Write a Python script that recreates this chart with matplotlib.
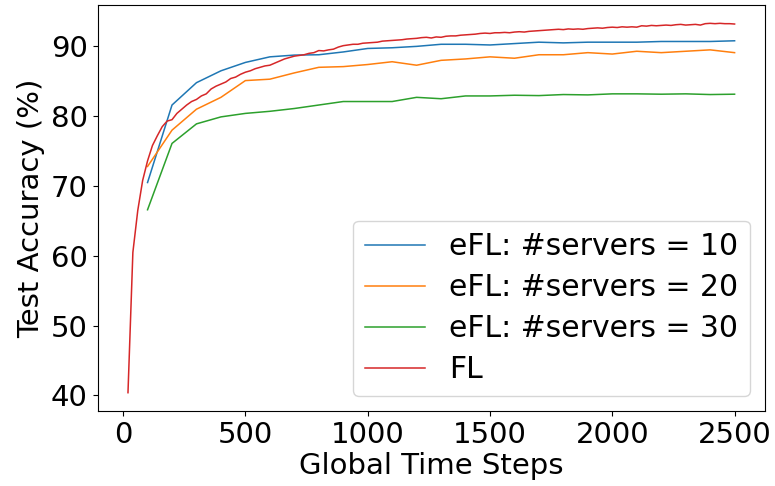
import numpy as np
import matplotlib
matplotlib.use("Agg")
from matplotlib import pyplot as plt

# eFL runs are evaluated every 100 global steps
steps_efl = [100, 200, 300, 400, 500, 600, 700, 800, 900, 1000,
             1100, 1200, 1300, 1400, 1500, 1600, 1700, 1800, 1900, 2000,
             2100, 2200, 2300, 2400, 2500]

acc_s10 = [70.5, 81.6, 84.8, 86.5, 87.7, 88.5, 88.75, 88.8, 89.2, 89.7,
           89.8, 90.0, 90.3, 90.3, 90.2, 90.4, 90.6, 90.5, 90.6, 90.6,
           90.6, 90.7, 90.7, 90.7, 90.8]
acc_s20 = [72.8, 78.0, 81.0, 82.7, 85.1, 85.3, 86.2, 87.0, 87.1, 87.4,
           87.8, 87.3, 88.0, 88.2, 88.5, 88.3, 88.8, 88.8, 89.1, 88.9,
           89.3, 89.1, 89.3, 89.5, 89.1]
acc_s30 = [66.6, 76.1, 78.9, 79.9, 80.4, 80.7, 81.1, 81.6, 82.1, 82.1,
           82.1, 82.7, 82.5, 82.9, 82.9, 83.0, 82.95, 83.1, 83.05, 83.2,
           83.2, 83.15, 83.2, 83.1, 83.15]

# plain FL is evaluated every 20 steps
steps_fl = np.arange(20, 2501, 20)
acc_fl = [40.4, 60.5, 66.5, 70.8, 73.6, 75.8, 77.2, 78.5, 79.3, 79.5,
          80.4, 81.0, 81.6, 82.1, 82.4, 82.9, 83.2, 83.9, 84.3, 84.6,
          84.9, 85.4, 85.6, 86.0, 86.3, 86.5, 86.8, 87.0, 87.2, 87.3,
          87.6, 87.9, 88.2, 88.4, 88.6, 88.7, 88.8, 89.0, 89.1, 89.4,
          89.35, 89.5, 89.6, 89.9, 90.1, 90.2, 90.3, 90.3, 90.45, 90.5,
          90.55, 90.6, 90.75, 90.8, 90.85, 90.9, 90.95, 91.05, 91.1, 91.15,
          91.25, 91.3, 91.2, 91.35, 91.3, 91.45, 91.5, 91.5, 91.6, 91.65,
          91.7, 91.75, 91.85, 91.9, 91.85, 91.95, 91.95, 92.0, 91.95, 92.05,
          92.1, 92.05, 92.15, 92.2, 92.25, 92.3, 92.35, 92.4, 92.45, 92.4,
          92.5, 92.45, 92.5, 92.45, 92.55, 92.6, 92.65, 92.6, 92.7, 92.75,
          92.7, 92.8, 92.75, 92.8, 92.75, 92.95, 92.9, 93.0, 92.95, 93.0,
          93.05, 93.0, 93.1, 93.15, 93.05, 93.1, 93.15, 93.05, 93.25, 93.3,
          93.25, 93.3, 93.25, 93.25, 93.2]

labels = ['eFL: #servers = 10', 'eFL: #servers = 20', 'eFL: #servers = 30', 'FL']

plt.rcParams['font.size'] = 21

fig = plt.figure(figsize=(7.75, 4.86), dpi=100)
ax = fig.add_axes([0.126, 0.154, 0.861, 0.836])

lw = 1.1
ax.plot(steps_efl, acc_s10, color='C0', lw=lw, label=labels[0])
ax.plot(steps_efl, acc_s20, color='C1', lw=lw, label=labels[1])
ax.plot(steps_efl, acc_s30, color='C2', lw=lw, label=labels[2])
ax.plot(steps_fl, acc_fl, color='C3', lw=lw, label=labels[3])

ax.set_xlabel('Global Time Steps', labelpad=2)
ax.set_ylabel('Test Accuracy (%)')
ax.set_xticks([0, 500, 1000, 1500, 2000, 2500])
ax.set_yticks([40, 50, 60, 70, 80, 90])
ax.legend(loc='lower right', fontsize=21.5, labelspacing=0.4)

fig.savefig('out.png', dpi=100)
